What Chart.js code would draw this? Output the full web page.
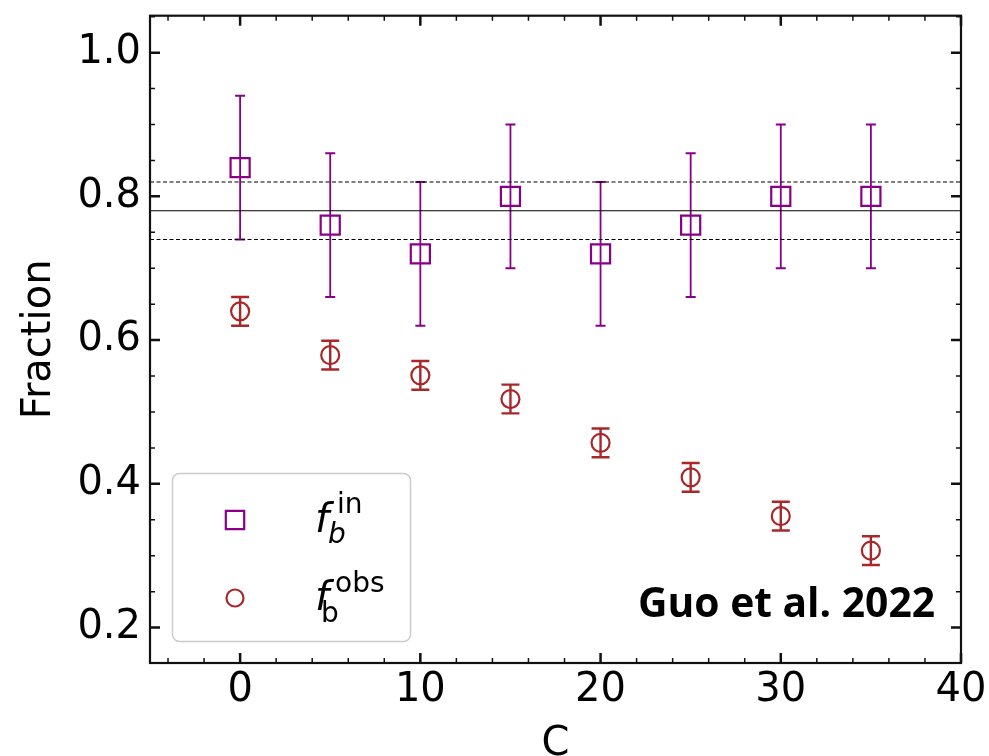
<!DOCTYPE html>
<html>
<head>
<meta charset="utf-8">
<script src="https://cdn.jsdelivr.net/npm/chart.js@4.4.0/dist/chart.umd.min.js"></script>
<style>
  html, body { margin: 0; padding: 0; background: #fff; }
  #wrap { width: 989px; height: 756px; }
</style>
</head>
<body>
<div id="wrap"><canvas id="chart" width="989" height="756"></canvas></div>
<script>
// C values and binary fractions
const cValues = [0, 5, 10, 15, 20, 25, 30, 35]
const fracIn = [0.84, 0.76, 0.72, 0.80, 0.72, 0.76, 0.80, 0.80]
const fracInErr = [0.10, 0.10, 0.10, 0.10, 0.10, 0.10, 0.10, 0.10]
const fracObs = [0.64, 0.579, 0.551, 0.518, 0.457, 0.409, 0.355, 0.307]
const fracObsErr = [0.02, 0.02, 0.02, 0.02, 0.02, 0.02, 0.02, 0.02]

// mean intrinsic fraction and its 1-sigma band
const meanFrac = 0.78
const meanFracLow = 0.74
const meanFracHigh = 0.82

const xRange = [-5, 40]
const yRange = [0.1507, 1.0514]
const xTicks = [0, 10, 20, 30, 40]
const yTicks = [0.2, 0.4, 0.6, 0.8, 1.0]

const PURPLE = '#880088'
const BROWN = '#a8282a'

const toPoints = (xs, ys) => xs.map((x, i) => ({ x: x, y: ys[i] }))
const hLine = (y) => [{ x: xRange[0], y: y }, { x: xRange[1], y: y }]

// vertical error bars with caps, read from dataset.errors
const errorBars = {
    id: 'errorBars',
    beforeDatasetsDraw(chart){
        const { ctx, scales: { x, y } } = chart
        chart.data.datasets.forEach((ds, di) => {
            if (!ds.errors || !chart.isDatasetVisible(di)) return
            ctx.save()
            ctx.strokeStyle = ds.borderColor
            ctx.lineWidth = ds.errorWidth
            ds.data.forEach((p, i) => {
                const px = x.getPixelForValue(p.x)
                const top = y.getPixelForValue(p.y + ds.errors[i])
                const bot = y.getPixelForValue(p.y - ds.errors[i])
                const cap = ds.capSize
                ctx.beginPath()
                ctx.moveTo(px, top); ctx.lineTo(px, bot)
                ctx.moveTo(px - cap, top); ctx.lineTo(px + cap, top)
                ctx.moveTo(px - cap, bot); ctx.lineTo(px + cap, bot)
                ctx.stroke()
            })
            ctx.restore()
        })
    }
}

// box frame with inward ticks on all four sides
const frameTicks = {
    id: 'frameTicks',
    afterDraw(chart){
        const { ctx, chartArea: a, scales: { x, y } } = chart
        ctx.save()
        ctx.strokeStyle = '#111'
        ctx.lineCap = 'butt'

        const tick = (fn, lw, len) => { ctx.lineWidth = lw; ctx.beginPath(); fn(len); ctx.stroke() }

        for (let v = -4; v <= xRange[1]; v += 2){
            const px = x.getPixelForValue(v)
            const major = v % 10 === 0
            tick((len) => {
                ctx.moveTo(px, a.bottom); ctx.lineTo(px, a.bottom - len)
                ctx.moveTo(px, a.top); ctx.lineTo(px, a.top + len)
            }, major ? 2.5 : 1.5, major ? 10 : 5)
        }
        for (let k = 4; k <= 21; k++){
            const v = k * 0.05
            const py = y.getPixelForValue(v)
            const major = k % 4 === 0
            tick((len) => {
                ctx.moveTo(a.left, py); ctx.lineTo(a.left + len, py)
                ctx.moveTo(a.right, py); ctx.lineTo(a.right - len, py)
            }, major ? 2.5 : 1.5, major ? 10 : 5)
        }

        ctx.lineWidth = 2.2
        ctx.strokeRect(a.left, a.top, a.right - a.left, a.bottom - a.top)
        ctx.restore()
    }
}

// legend with math-style labels, plus the citation
const mathLegend = {
    id: 'mathLegend',
    afterDraw(chart){
        const ctx = chart.ctx
        const dsIn = chart.data.datasets[3]
        const dsObs = chart.data.datasets[4]
        ctx.save()

        ctx.beginPath()
        ctx.roundRect(172.5, 473.5, 238, 168, 7)
        ctx.fillStyle = 'rgba(255,255,255,0.8)'
        ctx.fill()
        ctx.strokeStyle = '#cccccc'
        ctx.lineWidth = 1.5
        ctx.stroke()

        const marker = (ds, cy, r) => {
            Chart.helpers.drawPoint(ctx, {
                pointStyle: ds.pointStyle, radius: r, borderWidth: ds.borderWidth, rotation: 0
            }, 235, cy)
        }
        ctx.strokeStyle = dsIn.borderColor
        ctx.fillStyle = 'rgba(0,0,0,0)'
        ctx.lineWidth = dsIn.borderWidth
        marker(dsIn, 520, 13)
        ctx.strokeStyle = dsObs.borderColor
        ctx.lineWidth = dsObs.borderWidth
        marker(dsObs, 598, 8.5)

        ctx.fillStyle = '#000'
        ctx.textBaseline = 'alphabetic'
        ctx.textAlign = 'left'
        // f_b^in
        ctx.font = 'italic 40px "DejaVu Sans"'
        ctx.fillText('f', 315, 532)
        ctx.font = 'italic 28px "DejaVu Sans"'
        ctx.fillText('b', 328, 543)
        ctx.font = '28px "DejaVu Sans"'
        ctx.fillText('in', 337, 513)
        // f_b^obs
        ctx.font = 'italic 40px "DejaVu Sans"'
        ctx.fillText('f', 315, 610)
        ctx.font = '28px "DejaVu Sans"'
        ctx.fillText('b', 321, 622)
        ctx.fillText('obs', 335, 592)

        // citation
        ctx.font = 'bold 42px "Open Sans"'
        const label = 'Guo et al. 2022'
        const w = ctx.measureText(label).width
        ctx.translate(638, 617)
        ctx.scale(297 / w, 1)
        ctx.fillText(label, 0, 0)
        ctx.restore()
    }
}

Chart.defaults.font.family = '"DejaVu Sans"'
Chart.defaults.color = '#000'

const refLine = (y, dash) => ({
    type: 'line',
    data: hLine(y),
    borderColor: '#000',
    borderWidth: 1.2,
    borderDash: dash,
    pointRadius: 0,
    fill: false,
    order: 3,
})

new Chart(document.getElementById('chart'), {
    type: 'scatter',
    data: {
        datasets: [
            refLine(meanFrac, []),
            refLine(meanFracLow, [4, 2.5]),
            refLine(meanFracHigh, [4, 2.5]),
            {
                label: 'f_b^in',
                data: toPoints(cValues, fracIn),
                errors: fracInErr,
                errorWidth: 1.8,
                capSize: 5,
                pointStyle: 'rect',
                pointRadius: 13.5,
                pointHoverRadius: 13.5,
                borderColor: PURPLE,
                backgroundColor: 'rgba(0,0,0,0)',
                borderWidth: 2.2,
                order: 1,
            },
            {
                label: 'f_b^obs',
                data: toPoints(cValues, fracObs),
                errors: fracObsErr,
                errorWidth: 2.4,
                capSize: 9,
                pointStyle: 'circle',
                pointRadius: 9,
                pointHoverRadius: 9,
                borderColor: BROWN,
                backgroundColor: 'rgba(0,0,0,0)',
                borderWidth: 2.2,
                order: 1,
            },
        ]
    },
    options: {
        responsive: false,
        animation: false,
        layout: { padding: { top: 14, right: 28, left: 0, bottom: 0 } },
        plugins: {
            legend: { display: false },
            tooltip: { enabled: false },
        },
        scales: {
            x: {
                type: 'linear',
                min: xRange[0],
                max: xRange[1],
                afterBuildTicks: (s) => { s.ticks = xTicks.map(v => ({ value: v })) },
                afterFit: (s) => { s.height = 93; s.paddingLeft = 0; s.paddingRight = 0 },
                grid: { display: false, drawTicks: false },
                border: { display: false },
                ticks: { font: { size: 40 }, padding: 4, maxRotation: 0, autoSkip: false },
                title: {
                    display: true,
                    text: 'C',
                    font: { size: 40, lineHeight: 1 },
                    padding: { top: 0, bottom: -9 },
                },
            },
            y: {
                type: 'linear',
                min: yRange[0],
                max: yRange[1],
                afterBuildTicks: (s) => { s.ticks = yTicks.map(v => ({ value: v })) },
                afterFit: (s) => { s.width = 150; s.paddingTop = 0; s.paddingBottom = 0 },
                grid: { display: false, drawTicks: false },
                border: { display: false },
                ticks: {
                    font: { size: 40 },
                    padding: 9,
                    autoSkip: false,
                    callback: (v) => v.toFixed(1),
                },
                title: {
                    display: true,
                    text: 'Fraction',
                    font: { size: 40, lineHeight: 1 },
                    padding: { top: 20, bottom: 0 },
                },
            },
        },
    },
    plugins: [errorBars, frameTicks, mathLegend],
})
</script>
</body>
</html>
